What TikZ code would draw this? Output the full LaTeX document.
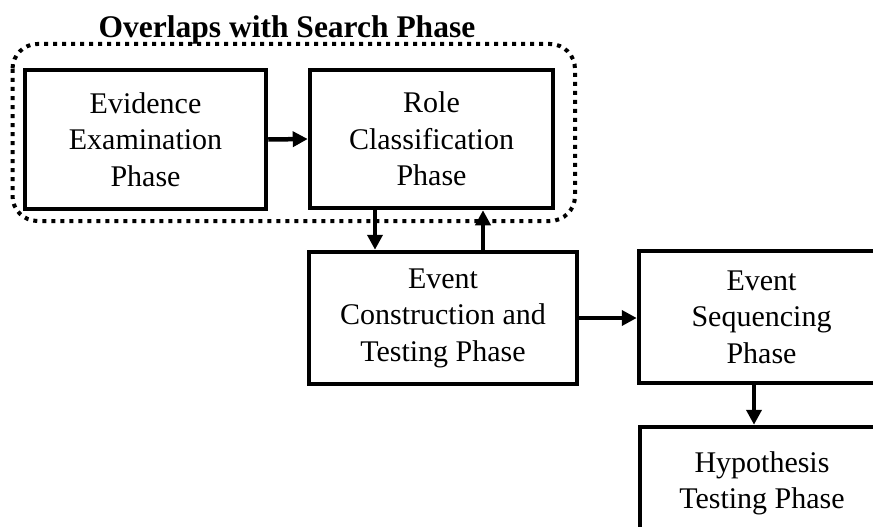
\documentclass[tikz,border=0pt]{standalone}
\usepackage{fontspec}
\setmainfont{Liberation Serif}
\usetikzlibrary{arrows.meta}

\begin{document}
\begin{tikzpicture}[x=1pt,y=-1pt,
  phasebox/.style={draw, line width=4.5pt, inner sep=0pt, align=center,
    font=\fontsize{30}{36.5}\selectfont},
  flow/.style={line width=4.5pt, -{Triangle[length=15pt,width=15pt]}},
  groupbox/.style={line width=4pt, dash pattern=on 4pt off 5pt, rounded corners=25pt},
  grouplabel/.style={font=\fontsize{31.5}{36}\selectfont\bfseries, anchor=base, inner sep=0pt}
]
\useasboundingbox (0,0) rectangle (873,527);

% phase boxes
\node[phasebox, minimum width=241pt, minimum height=139pt] (ev) at (145.5,139.5)
  {Evidence\\Examination\\Phase};
\node[phasebox, minimum width=243pt, minimum height=138pt] (role) at (431.5,139)
  {Role\\Classification\\Phase};
\node[phasebox, minimum width=268pt, minimum height=132pt] (ec) at (443,318)
  {Event\\Construction and\\Testing Phase};
\node[phasebox, minimum width=245pt, minimum height=132pt] (es) at (761.5,317)
  {Event\\Sequencing\\Phase};
\node[phasebox, minimum width=244pt, minimum height=113pt] (hyp) at (762,483.5)
  {Hypothesis\\Testing Phase};

% dotted group around the search-phase steps
\draw[groupbox] (12.5,44) rectangle (575,221);
\node[grouplabel] (grp) at (287,38) {Overlaps with Search Phase};

% connectors
\coordinate (down) at (375,0);
\coordinate (up) at (483,0);
\coordinate (seqx) at (754,0);
\draw[flow] (ev.east) -- (role.west);
\draw[flow] (down |- role.south) -- (down |- ec.north);
\draw[flow] (up |- ec.north) -- (up |- role.south);
\draw[flow] (ec.east) -- (ec.east -| es.west);
\draw[flow] (seqx |- es.south) -- (seqx |- hyp.north);
\end{tikzpicture}
\end{document}
